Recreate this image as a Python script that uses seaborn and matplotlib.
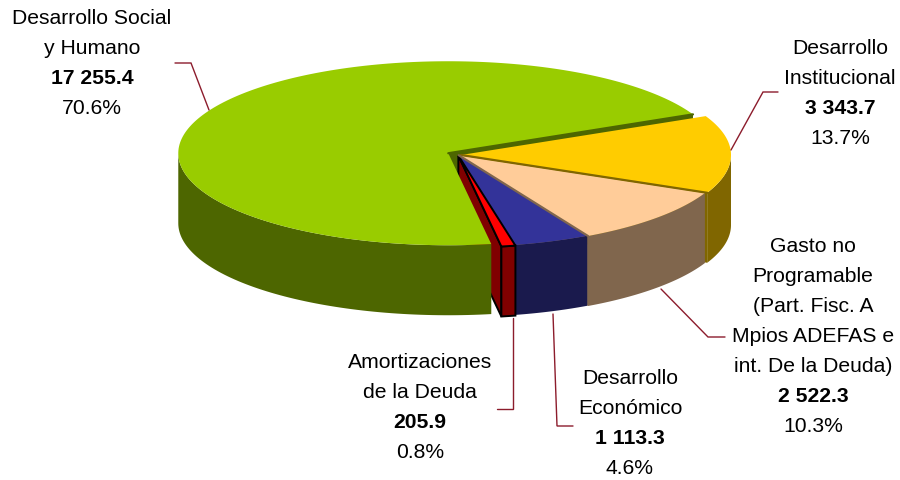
import numpy as np
import seaborn as sns
import matplotlib.pyplot as plt

categories = [
    ['Desarrollo', 'Institucional'],
    ['Gasto no', 'Programable', '(Part. Fisc. A', 'Mpios ADEFAS e', 'int. De la Deuda)'],
    ['Desarrollo', 'Económico'],
    ['Amortizaciones', 'de la Deuda'],
    ['Desarrollo Social', 'y Humano'],
]
values = [3343.7, 2522.3, 1113.3, 205.9, 17255.4]
percents = ['13.7%', '10.3%', '4.6%', '0.8%', '70.6%']
top_colors = ['#FFCC00', '#FFCC99', '#333399', '#FF0000', '#99CC00']

explode = [3, 1, 0, 2, 11]
label_pos = [(840, 48), (813, 246), (630, 379), (420, 363), (92, 18)]
leaders = [
    [(778, 92), (763, 92), (731, 150)],
    [(661, 289), (708, 337), (725, 337)],
    [(553, 314), (557, 426), (573, 426)],
    [(513, 318), (513, 409), (497, 409)],
    [(175, 63), (191, 63), (209, 110)],
]

START = 25
CX, CY, RX, RY, DEPTH = 458, 155, 270, 92, 70
LINE = 30

sns.set_theme(style='white')
plt.rcParams['font.family'] = ['Liberation Sans', 'DejaVu Sans']
palette = sns.color_palette(top_colors)
walls = [tuple(c * 0.5 for c in col) for col in palette]


def rim(center, angles):
    t = np.radians(angles)
    return center[0] + RX * np.cos(t), center[1] - RY * np.sin(t)


def outer_wall(ax, center, a0, a1, color, **kw):
    # only the part of the rim facing the viewer (sin < 0) gets a wall
    hi = min(a0, 0)
    lo = max(a1, -180)
    if hi <= lo:
        return
    x, y = rim(center, np.linspace(hi, lo, 80))
    ax.fill(np.r_[x, x[::-1]], np.r_[y, y[::-1] + DEPTH], color=color, lw=0, **kw)


def radial_face(ax, center, a, color, **kw):
    x, y = rim(center, np.array([a]))
    ax.fill([center[0], x[0], x[0], center[0]],
            [center[1], y[0], y[0] + DEPTH, center[1] + DEPTH], fc=color, **kw)


def top(ax, center, a0, a1, color, **kw):
    x, y = rim(center, np.linspace(a0, a1, 200))
    ax.fill(np.r_[center[0], x], np.r_[center[1], y], fc=color, **kw)


fig = plt.figure(figsize=(9, 4.8), dpi=100)
ax = fig.add_axes([0, 0, 1, 1])
ax.set_xlim(0, 900)
ax.set_ylim(480, 0)
ax.axis('off')

# slice geometry comes from the values, clockwise from START
sweep = np.array(values) / np.sum(values) * 360
ends = START - np.cumsum(sweep)
starts = ends + sweep
mids = (starts + ends) / 2
centers = []
for e, m in zip(explode, mids):
    centers.append((CX + e * np.cos(np.radians(m)),
                    CY - e * RY / RX * np.sin(np.radians(m))))

GREEN, YELLOW, PEACH, BLUE, RED = 4, 0, 1, 2, 3

# faces of the cut edges fill the small gaps between exploded slices
radial_face(ax, centers[YELLOW], ends[YELLOW], walls[YELLOW], lw=0)
radial_face(ax, centers[PEACH], ends[PEACH], walls[PEACH], lw=0)

# back faces next, the green top hides most of the red side
radial_face(ax, centers[GREEN], ends[GREEN], walls[GREEN], lw=0)
radial_face(ax, centers[RED], ends[RED], walls[RED], ec='black', lw=1.4, joinstyle='miter')

outer_wall(ax, centers[GREEN], starts[GREEN], ends[GREEN], walls[GREEN])
top(ax, centers[GREEN], starts[GREEN], ends[GREEN], palette[GREEN], lw=0)

for i in [YELLOW, PEACH, BLUE]:
    outer_wall(ax, centers[i], starts[i], ends[i], walls[i])
for i in [YELLOW, PEACH, BLUE]:
    top(ax, centers[i], starts[i], ends[i], palette[i], lw=0)

# thin dark edges between neighbouring tops
for i, a in [(GREEN, ends[GREEN]), (YELLOW, ends[YELLOW]), (PEACH, ends[PEACH])]:
    x, y = rim(centers[i], np.array([a]))
    ax.plot([centers[i][0], x[0]], [centers[i][1], y[0]], color=walls[i], lw=1.6)

# the small exploded red slice sits in front
x, y = rim(centers[RED], np.array([starts[RED], ends[RED]]))
ax.fill([x[0], x[1], x[1], x[0]], [y[0], y[1], y[1] + DEPTH, y[0] + DEPTH],
        fc=walls[RED], ec='black', lw=1.4)
top(ax, centers[RED], starts[RED], ends[RED], palette[RED], ec='black', lw=1.4)

for pts in leaders:
    px, py = zip(*pts)
    ax.plot(px, py, color='#8C1C2C', lw=1.0, solid_joinstyle='miter')

for lines, val, pct, (lx, ly) in zip(categories, values, percents, label_pos):
    rows = lines + [f'{val:,.1f}'.replace(',', ' '), pct]
    for n, row in enumerate(rows):
        weight = 'bold' if n == len(lines) else 'normal'
        ax.text(lx, ly + n * LINE, row, ha='center', va='center',
                fontsize=15.2, fontweight=weight, color='black')

fig.savefig('out.png', dpi=100)
